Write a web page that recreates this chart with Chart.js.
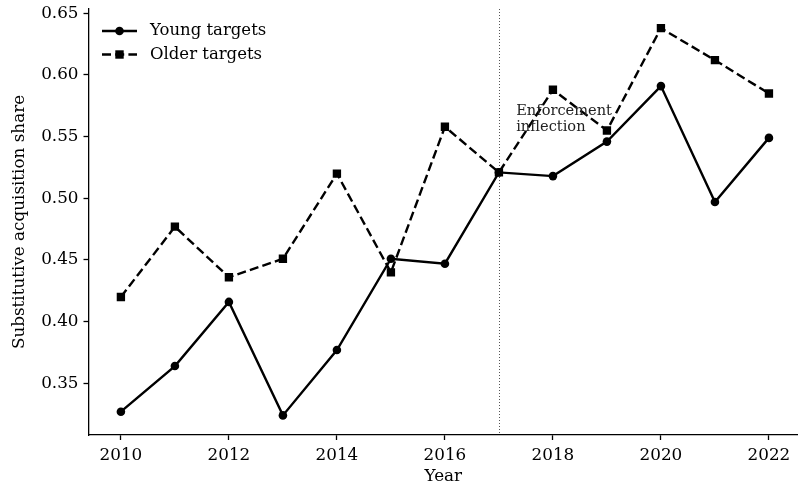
<!DOCTYPE html>
<html>
<head>
<meta charset="utf-8">
<script src="https://cdn.jsdelivr.net/npm/chart.js@4"></script>
<style>
  html, body { margin: 0; padding: 0; background: #fff; overflow: hidden; }
  #wrap { width: 798px; height: 489px; overflow: hidden; }
</style>
</head>
<body>
<!-- canvas a little wider than the page so the x axis runs to the right edge -->
<div id="wrap"><canvas id="share-chart" width="804" height="489"></canvas></div>
<script>
// Substitutive acquisition share by target age
const years = [2010, 2011, 2012, 2013, 2014, 2015, 2016, 2017, 2018, 2019, 2020, 2021, 2022];
const youngShare = [0.327, 0.364, 0.416, 0.324, 0.377, 0.451, 0.447, 0.521, 0.518, 0.546, 0.591, 0.497, 0.549];
const olderShare = [0.420, 0.477, 0.436, 0.451, 0.520, 0.440, 0.558, 0.521, 0.588, 0.555, 0.638, 0.612, 0.585];
const xTicks = [2010, 2012, 2014, 2016, 2018, 2020, 2022];
const yTicks = [0.35, 0.40, 0.45, 0.50, 0.55, 0.60, 0.65];
const inflectionYear = 2017;
const inflectionLabel = ['Enforcement', 'inflection'];

const serif = "'DejaVu Serif', serif";
const ink = '#000';
const lineW = 2.4;

const toPoints = vals => vals.map((v, i) => ({ x: years[i], y: v }));

// vertical marker + its note
const inflectionPlugin = {
    id: 'inflection',
    beforeDatasetsDraw(chart) {
        const { ctx, chartArea, scales } = chart;
        const x = Math.round(scales.x.getPixelForValue(inflectionYear)) + 0.5;
        ctx.save();
        ctx.strokeStyle = '#555';
        ctx.lineWidth = 1;
        ctx.setLineDash([1, 2]);
        ctx.beginPath();
        ctx.moveTo(x, chartArea.top);
        ctx.lineTo(x, chartArea.bottom);
        ctx.stroke();
        ctx.restore();
    },
    afterDatasetsDraw(chart) {
        const { ctx, scales } = chart;
        const x = scales.x.getPixelForValue(inflectionYear + 0.32);
        const y = scales.y.getPixelForValue(0.5705);
        ctx.save();
        ctx.fillStyle = '#222';
        ctx.font = '14.6px ' + serif;
        ctx.textBaseline = 'middle';
        ctx.textAlign = 'left';
        inflectionLabel.forEach((t, i) => ctx.fillText(t, x, y + i * 16));
        ctx.restore();
    }
};

// legend drawn as line + marker samples
const legendPlugin = {
    id: 'sampleLegend',
    afterDraw(chart) {
        const { ctx } = chart;
        ctx.save();
        chart.data.datasets.forEach((ds, i) => {
            const y = 31 + i * 23.5;
            ctx.strokeStyle = ink;
            ctx.lineWidth = lineW;
            ctx.setLineDash(ds.borderDash || []);
            ctx.beginPath();
            ctx.moveTo(102, y);
            ctx.lineTo(137, y);
            ctx.stroke();
            ctx.setLineDash([]);
            ctx.fillStyle = ink;
            if (ds.pointStyle === 'rect') {
                ctx.fillRect(119.5 - 4.2, y - 4.2, 8.4, 8.4);
            } else {
                ctx.beginPath();
                ctx.arc(119.5, y, 4.3, 0, Math.PI * 2);
                ctx.fill();
            }
            ctx.font = '16.5px ' + serif;
            ctx.textBaseline = 'middle';
            ctx.fillText(ds.label, 150, y);
        });
        ctx.restore();
    }
};

new Chart(document.getElementById('share-chart'), {
    type: 'line',
    data: {
        datasets: [{
            label: 'Young targets',
            data: toPoints(youngShare),
            borderColor: ink,
            backgroundColor: ink,
            borderWidth: lineW,
            pointStyle: 'circle',
            pointRadius: 4.3,
            pointBorderWidth: 0,
            order: 1
        }, {
            label: 'Older targets',
            data: toPoints(olderShare),
            borderColor: ink,
            backgroundColor: ink,
            borderWidth: lineW,
            borderDash: [9, 4.2],
            pointStyle: 'rect',
            pointRadius: 5.9,
            pointBorderWidth: 0,
            order: 0
        }]
    },
    options: {
        responsive: false,
        animation: false,
        layout: { padding: { top: 9, right: 0, left: 0, bottom: 0 } },
        plugins: {
            legend: { display: false },
            tooltip: { enabled: false }
        },
        scales: {
            x: {
                type: 'linear',
                min: 2009.4,
                max: 2022.54,
                afterBuildTicks: s => { s.ticks = xTicks.map(v => ({ value: v })); },
                afterFit: s => { s.height = 54; },
                border: { display: true, color: ink, width: 1.3 },
                grid: { drawOnChartArea: false, drawTicks: true, tickLength: 5, color: ink, tickWidth: 1.3 },
                ticks: {
                    color: ink,
                    padding: 6,
                    maxRotation: 0,
                    font: { family: serif, size: 16.8 },
                    callback: v => String(v)
                },
                title: {
                    display: true,
                    text: 'Year',
                    color: ink,
                    font: { family: serif, size: 16.8 },
                    padding: { top: 0, bottom: 2 }
                }
            },
            y: {
                type: 'linear',
                min: 0.3081,
                max: 0.6535,
                afterBuildTicks: s => { s.ticks = yTicks.map(v => ({ value: v })); },
                afterFit: s => { s.width = 88.5; s.paddingTop = 0; s.paddingBottom = 0; },
                border: { display: true, color: ink, width: 1.3 },
                grid: { drawOnChartArea: false, drawTicks: true, tickLength: 5, color: ink, tickWidth: 1.3 },
                ticks: {
                    color: ink,
                    padding: 5,
                    font: { family: serif, size: 16.8 },
                    callback: v => v.toFixed(2)
                },
                title: {
                    display: true,
                    text: 'Substitutive acquisition share',
                    color: ink,
                    font: { family: serif, size: 16.8 },
                    padding: { top: 10, bottom: 0 }
                }
            }
        }
    },
    plugins: [inflectionPlugin, legendPlugin]
});
</script>
</body>
</html>
